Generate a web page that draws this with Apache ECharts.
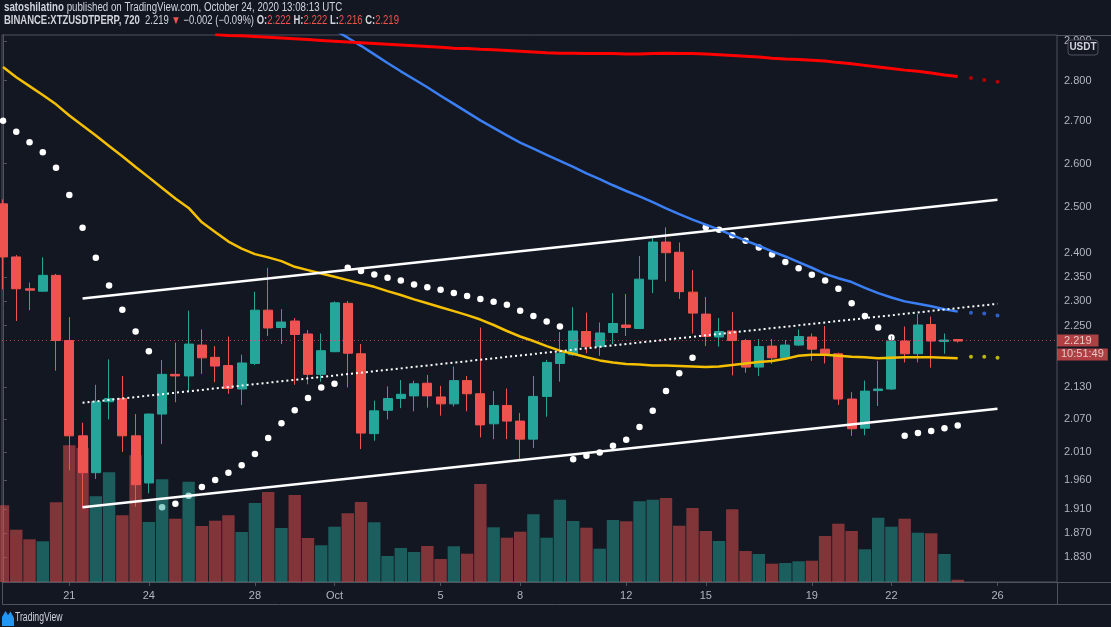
<!DOCTYPE html>
<html>
<head>
<meta charset="utf-8">
<title>BINANCE:XTZUSDTPERP, 720</title>
<script src="https://cdn.jsdelivr.net/npm/echarts@6.0.0/dist/echarts.min.js"></script>
<style>
  html, body { margin: 0; padding: 0; background: #131722; }
  #chart-dev { width: 1111px; height: 627px; }
</style>
</head>
<body>
<div id="chart-dev"></div>
<script>
// 12h candles, slot 0 = 2020-09-18 12:00 UTC, slot 72 = 2020-10-24 12:00 UTC
var tickSlots = [5, 11, 19, 25, 33, 39, 47, 53, 61, 67, 75];
var tickLabels = ['21', '24', '28', 'Oct', '5', '8', '12', '15', '19', '22', '26'];
var priceTicks = [1.83, 1.87, 1.91, 1.96, 2.01, 2.07, 2.13, 2.25, 2.30, 2.35, 2.40, 2.50, 2.60, 2.70, 2.80, 2.90];

var openP = [2.508, 2.392, 2.325, 2.320, 2.353, 2.220, 2.039, 1.973, 2.102, 2.108,
             2.039, 1.955, 2.079, 2.154, 2.151, 2.211, 2.187, 2.171, 2.126, 2.175,
             2.281, 2.246, 2.259, 2.233, 2.154, 2.198, 2.295, 2.194, 2.043, 2.086,
             2.108, 2.113, 2.137, 2.111, 2.098, 2.142, 2.117, 2.061, 2.095, 2.066,
             2.033, 2.112, 2.175, 2.192, 2.238, 2.208, 2.236, 2.251, 2.244, 2.345,
             2.424, 2.402, 2.318, 2.273, 2.227, 2.239, 2.220, 2.168, 2.209, 2.186,
             2.211, 2.227, 2.203, 2.194, 2.107, 2.053, 2.123, 2.126, 2.219, 2.194,
             2.252, 2.218, 2.222];
var highP = [2.518, 2.396, 2.338, 2.391, 2.356, 2.267, 2.063, 2.134, 2.183, 2.151,
             2.079, 2.080, 2.182, 2.216, 2.280, 2.242, 2.209, 2.228, 2.192, 2.319,
             2.369, 2.283, 2.265, 2.241, 2.234, 2.299, 2.300, 2.213, 2.104, 2.131,
             2.143, 2.142, 2.153, 2.132, 2.169, 2.151, 2.246, 2.122, 2.127, 2.081,
             2.151, 2.182, 2.237, 2.287, 2.276, 2.256, 2.316, 2.314, 2.394, 2.433,
             2.456, 2.423, 2.364, 2.308, 2.265, 2.277, 2.223, 2.223, 2.223, 2.221,
             2.242, 2.234, 2.249, 2.196, 2.120, 2.142, 2.180, 2.229, 2.248, 2.273,
             2.268, 2.234, 2.222];
var lowP = [2.324, 2.259, 2.281, 2.319, 2.161, 1.977, 1.911, 1.962, 2.069, 2.010,
            1.914, 1.937, 2.024, 2.101, 2.121, 2.155, 2.139, 2.117, 2.096, 2.172,
            2.229, 2.213, 2.134, 2.135, 2.140, 2.197, 2.129, 2.015, 2.030, 2.069,
            2.090, 2.084, 2.091, 2.076, 2.093, 2.084, 2.036, 2.033, 2.033, 1.996,
            2.017, 2.074, 2.140, 2.190, 2.195, 2.190, 2.213, 2.229, 2.243, 2.316,
            2.340, 2.304, 2.234, 2.209, 2.208, 2.152, 2.157, 2.151, 2.174, 2.185,
            2.209, 2.180, 2.175, 2.096, 2.039, 2.040, 2.094, 2.124, 2.177, 2.177,
            2.167, 2.194, 2.216];
var closeP = [2.392, 2.325, 2.322, 2.353, 2.220, 2.039, 1.973, 2.102, 2.108, 2.039,
              1.952, 2.079, 2.154, 2.151, 2.213, 2.186, 2.170, 2.127, 2.176, 2.281,
              2.245, 2.257, 2.232, 2.154, 2.200, 2.296, 2.195, 2.044, 2.085, 2.108,
              2.116, 2.136, 2.113, 2.098, 2.142, 2.117, 2.059, 2.095, 2.066, 2.033,
              2.112, 2.177, 2.195, 2.239, 2.208, 2.235, 2.254, 2.246, 2.345, 2.424,
              2.401, 2.319, 2.275, 2.228, 2.238, 2.220, 2.168, 2.208, 2.186, 2.211,
              2.228, 2.203, 2.194, 2.107, 2.052, 2.122, 2.126, 2.219, 2.194, 2.251,
              2.219, 2.221, 2.219];
var volume = [767, 523, 427, 407, 797, 1367, 1343, 857, 1097, 667,
              1267, 600, 1027, 633, 1003, 560, 613, 667, 500, 790,
              900, 540, 870, 440, 367, 553, 687, 800, 597, 260,
              340, 300, 360, 230, 357, 283, 980, 547, 443, 503,
              677, 443, 823, 610, 543, 333, 620, 607, 807, 823,
              840, 563, 740, 510, 410, 727, 310, 280, 183, 190,
              207, 213, 460, 583, 510, 327, 643, 553, 633, 493,
              487, 280, 23];

// moving averages (yellow from slot 0, red from slot 16, blue from slot 25)
var maYellow = [2.834, 2.808, 2.786, 2.764, 2.741, 2.714, 2.690, 2.666, 2.641, 2.617,
                2.592, 2.568, 2.544, 2.520, 2.499, 2.467, 2.446, 2.425, 2.410, 2.398,
                2.391, 2.383, 2.371, 2.364, 2.357, 2.350, 2.343, 2.336, 2.329, 2.320,
                2.312, 2.303, 2.295, 2.287, 2.279, 2.271, 2.262, 2.251, 2.239, 2.228,
                2.219, 2.209, 2.200, 2.194, 2.187, 2.181, 2.177, 2.174, 2.173, 2.171,
                2.171, 2.170, 2.169, 2.168, 2.169, 2.172, 2.175, 2.178, 2.180, 2.184,
                2.190, 2.192, 2.192, 2.190, 2.188, 2.187, 2.185, 2.186, 2.187, 2.187,
                2.187, 2.186, 2.185];
var maRedStart = 16;
var maRed = [2.917, 2.915, 2.914, 2.912, 2.910, 2.908, 2.906, 2.904, 2.902, 2.900,
             2.898, 2.896, 2.894, 2.892, 2.890, 2.888, 2.886, 2.884, 2.882, 2.881,
             2.879, 2.878, 2.876, 2.874, 2.872, 2.870, 2.869, 2.869, 2.868, 2.868,
             2.868, 2.867, 2.867, 2.868, 2.869, 2.868, 2.868, 2.867, 2.865, 2.863,
             2.861, 2.859, 2.856, 2.854, 2.853, 2.851, 2.849, 2.845, 2.842, 2.838,
             2.834, 2.830, 2.826, 2.823, 2.819, 2.814, 2.810];
var maBlueStart = 25;
var maBlue = [2.929, 2.909, 2.888, 2.866, 2.844, 2.823, 2.803, 2.783, 2.762, 2.742,
              2.722, 2.702, 2.684, 2.666, 2.649, 2.635, 2.620, 2.606, 2.592, 2.577,
              2.564, 2.550, 2.537, 2.525, 2.512, 2.498, 2.485, 2.473, 2.462, 2.451,
              2.439, 2.427, 2.416, 2.404, 2.393, 2.381, 2.369, 2.356, 2.347, 2.339,
              2.327, 2.316, 2.307, 2.299, 2.294, 2.289, 2.283, 2.278];
// forward-shifted MA values on slots 73..75
var nextSlots = [73, 74, 75];
var maYellowNext = [2.188, 2.188, 2.186];
var maBlueNext = [2.276, 2.274, 2.270];
var maRedNext = [2.806, 2.801, 2.797];

// parabolic SAR
var sar = [2.701, 2.675, 2.650, 2.626, 2.590, 2.528, 2.455, 2.390, 2.332, 2.282,
           2.238, 2.199, 1.913, 1.919, 1.933, 1.948, 1.960, 1.973, 1.986, 2.006,
           2.035, 2.062, 2.086, 2.109, 2.129, 2.136, 2.369, 2.362, 2.355, 2.348,
           2.342, 2.334, 2.328, 2.323, 2.316, 2.310, 2.304, 2.298, 2.292, 2.280,
           2.269, 2.258, 2.248, 1.997, 2.003, 2.009, 2.021, 2.032, 2.055, 2.085,
           2.122, 2.156, 2.186, 2.456, 2.451, 2.439, 2.427, 2.412, 2.397, 2.381,
           2.368, 2.354, 2.342, 2.325, 2.295, 2.269, 2.246, 2.226, 2.039, 2.044,
           2.048, 2.053, 2.058];

// drawn channel: [slot, price]
var channelTop = [[6, 2.305], [75, 2.517]];
var channelMid = [[6, 2.100], [75, 2.294]];
var channelBottom = [[6, 1.913], [75, 2.089]];

var countdown = '10:51:49';

var FONT = '"Liberation Sans", Arial, sans-serif';
var UP = '#26a69a', DOWN = '#ef5350';

var dom = document.getElementById('chart-dev');
var myChart = echarts.init(dom, null, { renderer: 'canvas', useDirtyRect: false });

var last = closeP.length - 1;
var chg = closeP[last] - closeP[last - 1];
var chgPct = chg / closeP[last - 1] * 100;
function minus(v, d) { return (v < 0 ? '\u2212' : '') + Math.abs(v).toFixed(d); }

var candles = openP.map(function (o, i) { return [i, o, closeP[i], lowP[i], highP[i]]; });
var vols = volume.map(function (v, i) {
  return { value: [i, v], itemStyle: { color: closeP[i] >= openP[i] ? 'rgba(38,166,154,0.5)' : 'rgba(239,83,80,0.5)' } };
});
function pairs(arr, start) { return arr.map(function (v, i) { return [start + i, v]; }); }
function nextPairs(arr) { return arr.map(function (v, i) { return [nextSlots[i], v]; }); }

var xMin = -0.0754, xMax = 79.487;

var option = {
  backgroundColor: '#131722',
  animation: false,
  grid: [
    { left: 2, right: 54, top: 35, bottom: 45, show: true, borderColor: '#50535e', borderWidth: 1, backgroundColor: 'transparent' },
    { left: 2, right: 54, top: 35, bottom: 45 }
  ],
  xAxis: [
    {
      type: 'value', gridIndex: 0, min: xMin, max: xMax,
      splitLine: { show: false },
      axisLine: { show: true, onZero: false, lineStyle: { color: '#50535e' } },
      axisTick: { show: true, customValues: tickSlots, length: 4, lineStyle: { color: '#50535e' } },
      axisLabel: {
        customValues: tickSlots,
        formatter: function (v) { var k = tickSlots.indexOf(Math.round(v)); return k < 0 ? '' : tickLabels[k]; },
        color: '#b2b5be', fontSize: 11, fontFamily: FONT, margin: 8
      }
    },
    { type: 'value', gridIndex: 1, min: xMin, max: xMax, show: false }
  ],
  yAxis: [
    {
      type: 'log', logBase: 10, gridIndex: 0, position: 'right', min: 1.7896, max: 2.916,
      splitLine: { show: false },
      axisLine: { show: true, lineStyle: { color: '#50535e' } },
      axisTick: { show: true, customValues: priceTicks, length: 4, lineStyle: { color: '#50535e' } },
      axisLabel: {
        customValues: priceTicks,
        formatter: function (v) { return (+v).toFixed(3); },
        color: '#b2b5be', fontSize: 11, fontFamily: FONT, margin: 7
      }
    },
    { type: 'value', gridIndex: 1, min: 0, max: 5470, show: false }
  ],
  series: [
    {
      name: 'SAR', type: 'scatter', xAxisIndex: 0, yAxisIndex: 0, z: 1,
      symbolSize: 6.5, itemStyle: { color: '#ffffff', opacity: 1 }, silent: true,
      data: pairs(sar, 0)
    },
    {
      name: 'Volume', type: 'bar', xAxisIndex: 1, yAxisIndex: 1, z: 2,
      barWidth: 12.4, data: vols, silent: true
    },
    {
      name: 'XTZUSDTPERP', type: 'candlestick', xAxisIndex: 0, yAxisIndex: 0, z: 3,
      barWidth: 9.5,
      itemStyle: { color: UP, color0: DOWN, borderColor: UP, borderColor0: DOWN, borderWidth: 1 },
      data: candles,
      markLine: {
        symbol: ['none', 'none'], silent: true, animation: false,
        lineStyle: { color: '#ef5350', type: [1, 3], width: 1, opacity: 0.7 },
        label: {
          position: 'end', distance: 0, padding: [14, 0, 0, 0],
          formatter: '{p|' + closeP[last].toFixed(3) + '}\n{t|' + countdown + '}',
          rich: {
            p: { backgroundColor: '#ef5350', color: '#ffffff', fontSize: 11, fontFamily: FONT, lineHeight: 14, padding: [1, 7, 0, 7] },
            t: { backgroundColor: '#ef5350', color: '#ffffff', fontSize: 11, fontFamily: FONT, lineHeight: 14, padding: [0, 4, 1, 4] }
          }
        },
        data: [{ yAxis: closeP[last] }]
      }
    },
    {
      name: 'MA yellow', type: 'line', z: 4, showSymbol: false, silent: true,
      lineStyle: { color: '#f5c000', width: 2.5 }, data: pairs(maYellow, 0)
    },
    {
      name: 'MA blue', type: 'line', z: 4, showSymbol: false, silent: true,
      lineStyle: { color: '#3b7ff5', width: 2.5 }, data: pairs(maBlue, maBlueStart)
    },
    {
      name: 'MA red', type: 'line', z: 4, showSymbol: false, silent: true,
      lineStyle: { color: '#ff0000', width: 3 }, data: pairs(maRed, maRedStart)
    },
    { type: 'scatter', z: 4, symbolSize: 4, silent: true, itemStyle: { color: '#b8b800', opacity: 1 }, data: nextPairs(maYellowNext) },
    { type: 'scatter', z: 4, symbolSize: 4, silent: true, itemStyle: { color: '#2f5fc8', opacity: 1 }, data: nextPairs(maBlueNext) },
    { type: 'scatter', z: 4, symbolSize: 4, silent: true, itemStyle: { color: '#b50000', opacity: 1 }, data: nextPairs(maRedNext) },
    {
      type: 'line', z: 5, showSymbol: false, silent: true,
      lineStyle: { color: '#ffffff', width: 2.5 }, data: channelTop
    },
    {
      type: 'line', z: 5, showSymbol: false, silent: true,
      lineStyle: { color: '#ffffff', width: 2.5 }, data: channelBottom
    },
    {
      type: 'line', z: 5, showSymbol: false, silent: true,
      lineStyle: { color: '#ffffff', width: 2, type: [2, 3] }, data: channelMid
    }
  ],
  graphic: [
    {
      type: 'text', x: 4, y: 2, scaleX: 0.81, silent: true, z: 100,
      style: {
        text: '{b|satoshilatino}{n| published on TradingView.com, October 24, 2020 13:08:13 UTC}',
        verticalAlign: 'top',
        rich: {
          b: { font: 'bold 12px ' + FONT, fill: '#d1d4dc' },
          n: { font: '12px ' + FONT, fill: '#d1d4dc' }
        }
      }
    },
    {
      type: 'text', x: 4, y: 15, scaleX: 0.79, silent: true, z: 100,
      style: {
        text: '{b|BINANCE:XTZUSDTPERP, 720}{n|  ' + closeP[last].toFixed(3) + ' }{r|\u25BC}{n| ' + minus(chg, 3) + ' (' + minus(chgPct, 2) + '%) }' +
              '{b|O:}{r|' + openP[last].toFixed(3) + '}{n| }{b|H:}{r|' + highP[last].toFixed(3) + '}{n| }' +
              '{b|L:}{r|' + lowP[last].toFixed(3) + '}{n| }{b|C:}{r|' + closeP[last].toFixed(3) + '}',
        verticalAlign: 'top',
        rich: {
          b: { font: 'bold 12px ' + FONT, fill: '#d1d4dc' },
          n: { font: '12px ' + FONT, fill: '#d1d4dc' },
          r: { font: '12px ' + FONT, fill: '#ef5350' }
        }
      }
    },
    {
      type: 'group', x: 1068, y: 40, silent: true, z: 100,
      children: [
        { type: 'rect', z: 100, shape: { x: 0, y: 0, width: 30, height: 15, r: 3 }, style: { fill: '#131722', stroke: '#50535e', lineWidth: 1 } },
        { type: 'text', z: 101, x: 15, y: 7.5, style: { text: 'USDT', font: 'bold 10px ' + FONT, fill: '#d1d4dc', align: 'center', verticalAlign: 'middle' } }
      ]
    },
    { type: 'line', silent: true, shape: { x1: 2.5, y1: 604.5, x2: 1111, y2: 604.5 }, style: { stroke: '#50535e', lineWidth: 1 } },
    { type: 'line', silent: true, shape: { x1: 2.5, y1: 582, x2: 2.5, y2: 604.5 }, style: { stroke: '#50535e', lineWidth: 1 } },
    { type: 'line', silent: true, shape: { x1: 1057.5, y1: 582, x2: 1057.5, y2: 604.5 }, style: { stroke: '#50535e', lineWidth: 1 } },
    { type: 'line', silent: true, shape: { x1: 1057, y1: 582.5, x2: 1111, y2: 582.5 }, style: { stroke: '#50535e', lineWidth: 1 } },
    { type: 'line', silent: true, shape: { x1: 1057, y1: 35.5, x2: 1111, y2: 35.5 }, style: { stroke: '#50535e', lineWidth: 1 } },
    {
      type: 'polygon', silent: true,
      shape: { points: [[2, 626], [2, 617], [5.5, 611], [8, 615], [10.5, 611.5], [14, 618], [14, 626]] },
      style: { fill: '#2196f3' }
    },
    { type: 'text', x: 15, y: 612, scaleX: 0.72, silent: true, style: { text: 'TradingView', font: '12px ' + FONT, fill: '#d1d4dc', verticalAlign: 'top' } }
  ]
};

if (option && typeof option === 'object') {
  myChart.setOption(option);
}

window.addEventListener('resize', myChart.resize);
</script>
</body>
</html>
